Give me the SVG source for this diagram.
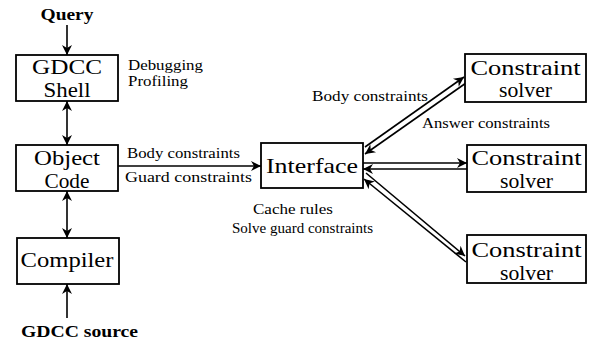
<svg xmlns="http://www.w3.org/2000/svg" width="593" height="342" viewBox="0 0 593 342">
  <style>
    .box { fill: #fff; stroke: #000; stroke-width: 1.8; }
    .big { font-family: "Liberation Serif", "Times New Roman", serif; font-size: 22px; fill: #000; text-anchor: middle; }
    .mid { font-family: "Liberation Serif", "Times New Roman", serif; font-size: 21px; fill: #000; text-anchor: middle; }
    .lbl { font-family: "Liberation Serif", "Times New Roman", serif; font-size: 14px; fill: #000; }
    .bold { font-family: "Liberation Serif", "Times New Roman", serif; font-size: 16px; font-weight: bold; fill: #000; }
    .edge { fill: none; stroke: #000; stroke-width: 1.6; }
    .head { marker-end: url(#arrow); }
    .both { marker-start: url(#arrow); marker-end: url(#arrow); }
  </style>
  <defs>
    <marker id="arrow" viewBox="0 0 10 10" refX="10" refY="5" markerWidth="12" markerHeight="10" markerUnits="userSpaceOnUse" orient="auto-start-reverse">
      <path d="M0,0 L10,5 L0,10 L3,5 Z" fill="#000"/>
    </marker>
  </defs>
  <rect width="593" height="342" fill="#fff"/>

  <!-- connectors -->
  <g id="connectors">
    <line class="edge head" x1="67" y1="25" x2="67" y2="55"/>
    <line class="edge both" x1="67" y1="101" x2="67" y2="145"/>
    <line class="edge both" x1="67" y1="191" x2="67" y2="238"/>
    <line class="edge head" x1="67" y1="318" x2="67" y2="284"/>
    <line class="edge head" x1="118" y1="166" x2="261" y2="166"/>
    <!-- interface to solver 1 (pair) -->
    <line class="edge head" x1="365" y1="147" x2="464" y2="77"/>
    <line class="edge head" x1="466" y1="83" x2="365" y2="154"/>
    <!-- interface to solver 2 (pair) -->
    <line class="edge head" x1="363" y1="163" x2="467" y2="163"/>
    <line class="edge head" x1="467" y1="169" x2="363" y2="169"/>
    <!-- interface to solver 3 (pair) -->
    <line class="edge head" x1="366" y1="173" x2="465" y2="256"/>
    <line class="edge head" x1="466" y1="262" x2="364" y2="179"/>
  </g>

  <g id="query">
    <text class="bold" x="67" y="20" text-anchor="middle" textLength="53" lengthAdjust="spacingAndGlyphs">Query</text>
  </g>

  <g id="gdcc-shell">
    <rect class="box" x="16" y="55" width="102" height="46"/>
    <text class="big" x="67" y="74" textLength="70" lengthAdjust="spacingAndGlyphs">GDCC</text>
    <text class="big" x="67" y="97" textLength="47" lengthAdjust="spacingAndGlyphs">Shell</text>
  </g>

  <g id="shell-notes">
    <text class="lbl" x="128" y="70" textLength="75" lengthAdjust="spacingAndGlyphs">Debugging</text>
    <text class="lbl" x="128" y="86" textLength="60" lengthAdjust="spacingAndGlyphs">Profiling</text>
  </g>

  <g id="object-code">
    <rect class="box" x="16" y="145" width="102" height="46"/>
    <text class="big" x="67" y="165" textLength="66" lengthAdjust="spacingAndGlyphs">Object</text>
    <text class="big" x="67" y="188" textLength="45" lengthAdjust="spacingAndGlyphs">Code</text>
  </g>

  <g id="compiler">
    <rect class="box" x="17" y="238" width="102" height="46"/>
    <text class="big" x="67" y="267" textLength="93" lengthAdjust="spacingAndGlyphs">Compiler</text>
  </g>

  <g id="gdcc-source">
    <text class="bold" x="21" y="337" textLength="117" lengthAdjust="spacingAndGlyphs">GDCC source</text>
  </g>

  <g id="object-labels">
    <text class="lbl" x="127" y="158" textLength="113" lengthAdjust="spacingAndGlyphs">Body constraints</text>
    <text class="lbl" x="125" y="182" textLength="127" lengthAdjust="spacingAndGlyphs">Guard constraints</text>
  </g>

  <g id="interface">
    <rect class="box" x="261" y="143" width="102" height="45"/>
    <text class="mid" x="312" y="173" font-size="22" textLength="92" lengthAdjust="spacingAndGlyphs">Interface</text>
  </g>

  <g id="interface-notes">
    <text class="lbl" x="253" y="214" textLength="80" lengthAdjust="spacingAndGlyphs">Cache rules</text>
    <text class="lbl" x="232" y="233" textLength="141" lengthAdjust="spacingAndGlyphs">Solve guard constraints</text>
  </g>

  <g id="solver-labels">
    <text class="lbl" x="312" y="101" textLength="116" lengthAdjust="spacingAndGlyphs">Body constraints</text>
    <text class="lbl" x="422" y="128" textLength="128" lengthAdjust="spacingAndGlyphs">Answer constraints</text>
  </g>

  <g id="solver-1">
    <rect class="box" x="465" y="54" width="121" height="48"/>
    <text class="mid" x="525.5" y="75" textLength="110" lengthAdjust="spacingAndGlyphs">Constraint</text>
    <text class="mid" x="525.5" y="97" textLength="53" lengthAdjust="spacingAndGlyphs">solver</text>
  </g>

  <g id="solver-2">
    <rect class="box" x="467" y="145" width="119" height="47"/>
    <text class="mid" x="526.5" y="165" textLength="110" lengthAdjust="spacingAndGlyphs">Constraint</text>
    <text class="mid" x="526.5" y="188" textLength="53" lengthAdjust="spacingAndGlyphs">solver</text>
  </g>

  <g id="solver-3">
    <rect class="box" x="467" y="235" width="119" height="48"/>
    <text class="mid" x="526.5" y="257" textLength="110" lengthAdjust="spacingAndGlyphs">Constraint</text>
    <text class="mid" x="526.5" y="280" textLength="53" lengthAdjust="spacingAndGlyphs">solver</text>
  </g>
</svg>
